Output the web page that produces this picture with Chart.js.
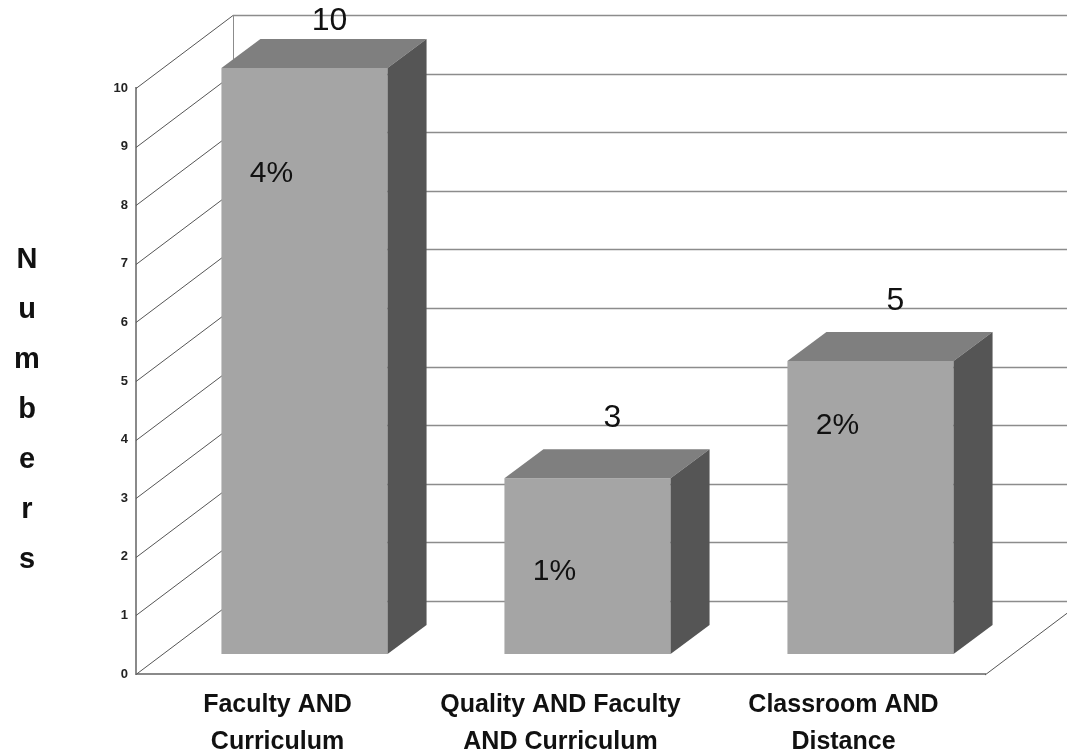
<!DOCTYPE html>
<html lang="en">
<head>
    <meta charset="UTF-8">
    <title>Numbers</title>
    <script src="https://cdn.jsdelivr.net/npm/chart.js"></script>
    <style>
        body {
            margin: 0;
            padding: 0;
            background: #fff;
        }
        #wrap {
            width: 1067px;
            height: 752px;
            position: relative;
        }
    </style>
</head>
<body>
    <div id="wrap"><canvas id="bars"></canvas></div>
    <script>
        const categories = [
            ['Faculty AND', 'Curriculum'],
            ['Quality AND Faculty', 'AND Curriculum'],
            ['Classroom AND', 'Distance']
        ];
        const counts = [10, 3, 5];
        const shares = ['4%', '1%', '2%'];
        const axisTitle = 'Numbers';

        // depth of the whole box and of the bars inside it
        const WALL_DX = 97, WALL_DY = 73;
        const BAR_SHIFT_X = 27, BAR_SHIFT_Y = 20;
        const BAR_DX = 39, BAR_DY = 29;

        const box3d = {
            id: 'box3d',
            beforeDatasetsDraw(chart) {
                const ctx = chart.ctx;
                const area = chart.chartArea;
                const y = chart.scales.y;
                ctx.save();
                y.ticks.forEach(t => {
                    const py = Math.round(y.getPixelForValue(t.value)) + 0.5;
                    // back wall line
                    ctx.strokeStyle = '#8c8c8c';
                    ctx.lineWidth = 1.5;
                    ctx.beginPath();
                    ctx.moveTo(area.left + WALL_DX, py - WALL_DY);
                    ctx.lineTo(area.right + WALL_DX, py - WALL_DY);
                    ctx.stroke();
                    // side wall line
                    ctx.strokeStyle = '#555';
                    ctx.lineWidth = 1;
                    ctx.beginPath();
                    ctx.moveTo(area.left, py);
                    ctx.lineTo(area.left + WALL_DX, py - WALL_DY);
                    ctx.stroke();
                });
                // back wall corner and floor edge
                ctx.strokeStyle = '#8c8c8c';
                ctx.beginPath();
                ctx.moveTo(area.left + WALL_DX + 0.5, area.top - WALL_DY);
                ctx.lineTo(area.left + WALL_DX + 0.5, area.bottom - WALL_DY);
                ctx.stroke();
                ctx.strokeStyle = '#555';
                ctx.beginPath();
                ctx.moveTo(area.right, area.bottom + 1);
                ctx.lineTo(area.right + WALL_DX, area.bottom + 1 - WALL_DY);
                ctx.stroke();
                ctx.restore();

                ctx.save();
                ctx.translate(BAR_SHIFT_X, -BAR_SHIFT_Y);
            },
            afterDatasetsDraw(chart, args, opts) {
                const ctx = chart.ctx;
                const meta = chart.getDatasetMeta(0);
                meta.data.forEach(bar => {
                    const p = bar.getProps(['x', 'y', 'base', 'width'], true);
                    const l = p.x - p.width / 2, r = p.x + p.width / 2;
                    // top face
                    ctx.fillStyle = '#7f7f7f';
                    ctx.beginPath();
                    ctx.moveTo(l, p.y);
                    ctx.lineTo(l + BAR_DX, p.y - BAR_DY);
                    ctx.lineTo(r + BAR_DX, p.y - BAR_DY);
                    ctx.lineTo(r, p.y);
                    ctx.closePath();
                    ctx.fill();
                    // side face
                    ctx.fillStyle = '#555555';
                    ctx.beginPath();
                    ctx.moveTo(r, p.y);
                    ctx.lineTo(r + BAR_DX, p.y - BAR_DY);
                    ctx.lineTo(r + BAR_DX, p.base - BAR_DY);
                    ctx.lineTo(r, p.base);
                    ctx.closePath();
                    ctx.fill();
                });
                ctx.restore();

                // value labels above the bars, shares on the front faces
                const y = chart.scales.y;
                ctx.save();
                ctx.fillStyle = '#111';
                ctx.textAlign = 'center';
                ctx.textBaseline = 'middle';
                meta.data.forEach((bar, i) => {
                    const cx = bar.x + BAR_SHIFT_X;
                    const ty = Math.max(21, y.getPixelForValue(counts[i]) - 80);
                    ctx.font = '32px "Liberation Sans", Arial, sans-serif';
                    ctx.fillText(String(counts[i]), cx + 25, ty);
                    const sy = y.getPixelForValue(opts.shareAt[i]) - BAR_SHIFT_Y;
                    ctx.font = '30px "Liberation Sans", Arial, sans-serif';
                    ctx.fillText(shares[i], cx - 33, sy);
                });
                ctx.restore();
            },
            afterDraw(chart) {
                const ctx = chart.ctx;
                ctx.save();
                ctx.fillStyle = '#111';
                ctx.font = 'bold 29px "Liberation Sans", Arial, sans-serif';
                ctx.textAlign = 'center';
                ctx.textBaseline = 'alphabetic';
                axisTitle.split('').forEach((ch, i) => {
                    ctx.fillText(ch, 27, 268 + i * 50);
                });
                ctx.restore();
            }
        };

        const ctx = document.getElementById('bars').getContext('2d');
        new Chart(ctx, {
            type: 'bar',
            data: {
                labels: categories,
                datasets: [{
                    data: counts,
                    backgroundColor: '#a5a5a5',
                    borderWidth: 0,
                    barPercentage: 0.587,
                    categoryPercentage: 1,
                    clip: false
                }]
            },
            options: {
                responsive: true,
                maintainAspectRatio: false,
                animation: false,
                layout: {
                    padding: { top: 88, right: 82, left: 0, bottom: 0 }
                },
                plugins: {
                    legend: { display: false },
                    tooltip: { enabled: false },
                    box3d: { shareAt: [8.2, 1.4, 3.9] }
                },
                scales: {
                    x: {
                        afterFit(scale) { scale.height = 78; },
                        grid: { display: false, drawTicks: false },
                        border: { display: true, color: '#8a8a8a', width: 2 },
                        ticks: {
                            color: '#111',
                            padding: 13,
                            maxRotation: 0,
                            autoSkip: false,
                            font: {
                                family: '"Liberation Sans", Arial, sans-serif',
                                size: 25,
                                weight: 'bold',
                                lineHeight: 1.48
                            }
                        }
                    },
                    y: {
                        min: 0,
                        max: 10,
                        afterFit(scale) { scale.width = 136; },
                        grid: { display: false, drawTicks: false },
                        border: { display: true, color: '#8a8a8a', width: 2 },
                        ticks: {
                            stepSize: 1,
                            color: '#222',
                            padding: 8,
                            font: { family: '"Liberation Sans", Arial, sans-serif', size: 13, weight: 'bold' }
                        }
                    }
                }
            },
            plugins: [box3d]
        });
    </script>
</body>
</html>
